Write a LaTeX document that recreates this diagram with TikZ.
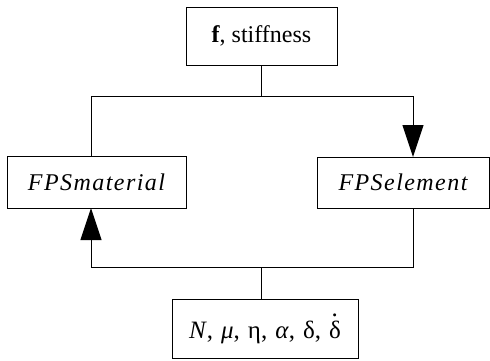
\documentclass[tikz,border=0pt]{standalone}
\usepackage{fontspec}
\setmainfont{Liberation Serif}
\usetikzlibrary{arrows.meta}
\newcommand{\dotdelta}{δ\makebox[0pt][r]{\raisebox{0.88em}{\makebox[0.5em][c]{.}}}}
\newcommand{\gsep}{,\hspace{8pt}}
\begin{document}
\begin{tikzpicture}[x=1pt,y=1pt,
  box/.style={draw=black,line width=1pt,minimum height=#1,inner sep=0pt,font=\fontsize{24}{28}\selectfont},
  box/.default=52pt,
  conn/.style={line width=1pt,black},
  arr/.style={conn,-{Triangle[length=32pt,width=21pt]}}]
\useasboundingbox (0,0) rectangle (490,-360);
\node[box=58pt,minimum width=151pt] (top) at (261.5,-36) {\textbf{f}, stiffness};
\node[box=52pt,minimum width=179pt] (left) at (96.5,-182) {\addfontfeature{LetterSpace=6}\itshape FPSmaterial};
\node[box=51pt,minimum width=172pt] (right) at (403,-182.5) {\addfontfeature{LetterSpace=6}\itshape FPSelement};
\node[box=59pt,minimum width=186pt,font=\fontsize{25}{28}\selectfont] (bot) at (265,-328.5) {\textit{N}\gsep\textit{μ}\gsep η\gsep\textit{α}\gsep δ\gsep\dotdelta};
\coordinate (jt) at (261.5,-96);
\coordinate (jb) at (261.5,-267);
\coordinate (ln) at (91,-156);
\coordinate (ls) at (91,-208);
\coordinate (rn) at (413,-157);
\coordinate (rs) at (413,-208);
\draw[conn] (top.south) -- (jt);
\draw[conn] (jt) -| (ln);
\draw[arr] (jt) -| (rn);
\draw[conn] (bot.north -| jb) -- (jb);
\draw[conn] (rs) |- (jb);
\draw[arr] (jb) -| (ls);
\end{tikzpicture}
\end{document}
